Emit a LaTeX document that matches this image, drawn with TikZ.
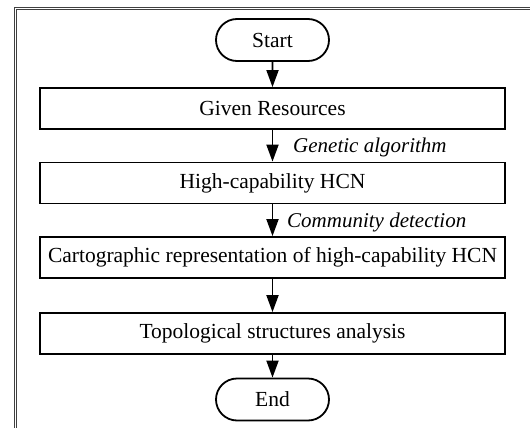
\documentclass[tikz,border=0pt]{standalone}
\usepackage{fontspec}
\setmainfont{Liberation Serif}
\usetikzlibrary{arrows.meta}
\usetikzlibrary{shapes.misc}

\begin{document}
\begin{tikzpicture}[x=1pt, y=-1pt,
  procbox/.style={rectangle, draw, line width=1.8pt, minimum width=465pt, minimum height=41pt, inner sep=0pt, font=\fontsize{21.5}{25}\selectfont},
  termbox/.style={rounded rectangle, draw, line width=1.8pt, minimum width=113pt, minimum height=42pt, inner sep=0pt, font=\fontsize{21.5}{25}\selectfont},
  flow/.style={line width=1.8pt, -{Triangle[width=12pt, length=17pt]}},
  steplabel/.style={anchor=west, inner sep=0pt, font=\fontsize{21}{25}\selectfont\itshape}]
\useasboundingbox (0,0) rectangle (530,428);

%%Frame
\begin{scope}
\clip (0,0) rectangle (530,428);
\draw[line width=0.9pt, black!75] (14,7) rectangle (600,480);
\draw[line width=0.9pt, black!75] (16.5,9.5) rectangle (600,480);
\end{scope}

%%Terminals and steps
\node[termbox] (start) at (272.5,40) {Start};
\node[procbox] (given) at (272.5,108.5) {Given Resources};
\node[procbox] (hcn) at (272.5,183) {High-capability HCN};
\node[procbox] (carto) at (272.5,257.5) {Cartographic representation of high-capability HCN};
\node[procbox] (topo) at (272.5,333.5) {Topological structures analysis};
\node[termbox] (end) at (272.5,399.5) {End};

%%Flow
\draw[flow] (start) -- (given);
\draw[flow] (given) -- (hcn);
\draw[flow] (hcn) -- (carto);
\draw[flow] (carto) -- (topo);
\draw[flow] (topo) -- (end);

%%Methods
\node[steplabel] (genetic) at (293,147) {Genetic algorithm};
\node[steplabel] (community) at (287,222) {Community detection};

\end{tikzpicture}
\end{document}
